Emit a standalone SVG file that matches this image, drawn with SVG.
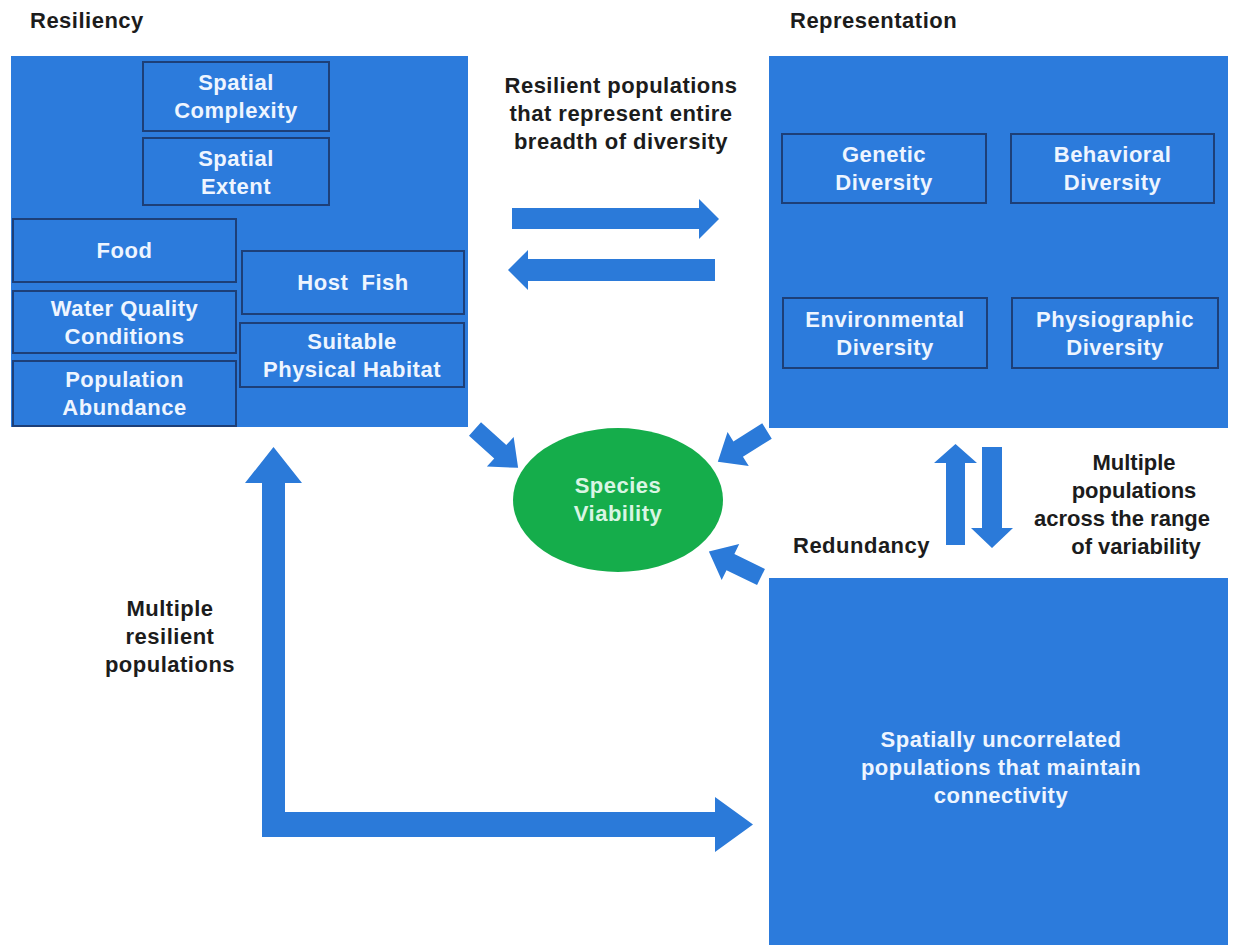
<svg xmlns="http://www.w3.org/2000/svg" width="1239" height="947" viewBox="0 0 1239 947">
<defs>
<style>
.big{fill:#2c7bdc;}
.inner{fill:#2c7bdc;stroke:#1d3f78;stroke-width:2;}
.arrow{fill:#2b7ad9;}
.t{font-family:"Liberation Sans",Arial,sans-serif;font-weight:bold;font-size:22px;letter-spacing:0.5px;text-anchor:middle;}
.n{letter-spacing:0;}
.w{fill:#eef5ff;}
.k{fill:#1c1c1c;}
.g{fill:#d9f5e3;}
</style>
<polygon id="diag" points="0,-9 34,-9 34,-20 58,0 34,20 34,9 0,9"/>
</defs>
<rect width="1239" height="947" fill="#ffffff"/>

<text class="t k" x="30" y="28" style="text-anchor:start">Resiliency</text>
<text class="t k" x="790" y="28" style="text-anchor:start">Representation</text>

<g id="resiliency">
<rect class="big" x="11" y="56" width="457" height="371"/>
<g id="spatial-complexity"><rect class="inner" x="143" y="62" width="186" height="69"/>
<text class="t w" x="236" y="90">Spatial</text><text class="t w" x="236" y="118">Complexity</text></g>
<g id="spatial-extent"><rect class="inner" x="143" y="138" width="186" height="67"/>
<text class="t w" x="236" y="166">Spatial</text><text class="t w" x="236" y="194">Extent</text></g>
<g id="food"><rect class="inner" x="13" y="219" width="223" height="63"/>
<text class="t w" x="124.5" y="258">Food</text></g>
<g id="water-quality"><rect class="inner" x="13" y="291" width="223" height="62"/>
<text class="t w" x="124.5" y="316">Water Quality</text><text class="t w" x="124.5" y="344">Conditions</text></g>
<g id="population-abundance"><rect class="inner" x="13" y="361" width="223" height="65"/>
<text class="t w" x="124.5" y="387">Population</text><text class="t w" x="124.5" y="415">Abundance</text></g>
<g id="host-fish"><rect class="inner" x="242" y="251" width="222" height="63"/>
<text class="t w" x="353" y="290" xml:space="preserve">Host  Fish</text></g>
<g id="physical-habitat"><rect class="inner" x="240" y="323" width="224" height="64"/>
<text class="t w" x="352" y="349">Suitable</text><text class="t w" x="352" y="377">Physical Habitat</text></g>
</g>

<g id="representation">
<rect class="big" x="769" y="56" width="459" height="372"/>
<g id="genetic"><rect class="inner" x="782" y="134" width="204" height="69"/>
<text class="t w" x="884" y="162">Genetic</text><text class="t w" x="884" y="190">Diversity</text></g>
<g id="behavioral"><rect class="inner" x="1011" y="134" width="203" height="69"/>
<text class="t w" x="1112.5" y="162">Behavioral</text><text class="t w" x="1112.5" y="190">Diversity</text></g>
<g id="environmental"><rect class="inner" x="783" y="298" width="204" height="70"/>
<text class="t w" x="885" y="327">Environmental</text><text class="t w" x="885" y="355">Diversity</text></g>
<g id="physiographic"><rect class="inner" x="1012" y="298" width="206" height="70"/>
<text class="t w" x="1115" y="327">Physiographic</text><text class="t w" x="1115" y="355">Diversity</text></g>
</g>

<g id="redundancy-box">
<rect class="big" x="769" y="578" width="459" height="367"/>
<text class="t w" x="1001" y="747">Spatially uncorrelated</text>
<text class="t w" x="1001" y="775">populations that maintain</text>
<text class="t w" x="1001" y="803">connectivity</text>
</g>

<g id="species-viability">
<ellipse cx="618" cy="500" rx="105" ry="72" fill="#15ad4b"/>
<text class="t g" x="618" y="493">Species</text>
<text class="t g" x="618" y="521">Viability</text>
</g>

<g id="labels">
<text class="t k" x="621" y="93">Resilient populations</text>
<text class="t k" x="621" y="121">that represent entire</text>
<text class="t k" x="621" y="149">breadth of diversity</text>
<text class="t k n" x="1134" y="470">Multiple</text>
<text class="t k n" x="1134" y="498">populations</text>
<text class="t k n" x="1122" y="526">across the range</text>
<text class="t k n" x="1136" y="554">of variability</text>
<text class="t k" x="793" y="553" style="text-anchor:start">Redundancy</text>
<text class="t k" x="170" y="616">Multiple</text>
<text class="t k" x="170" y="644">resilient</text>
<text class="t k" x="170" y="672">populations</text>
</g>

<g id="connectors">
<polygon class="arrow" points="512,208 699,208 699,199 719,219 699,239 699,229 512,229"/>
<polygon class="arrow" points="715,259 528,259 528,250 508,270 528,290 528,281 715,281"/>
<use href="#diag" class="arrow" transform="translate(475,429) rotate(42)"/>
<use href="#diag" class="arrow" transform="translate(767,431) rotate(148)"/>
<use href="#diag" class="arrow" transform="translate(761,577) rotate(206)"/>
<polygon class="arrow" points="946,545 946,463 934,463 955.5,444 977,463 965,463 965,545"/>
<polygon class="arrow" points="982,447 1002,447 1002,528 1013,528 992,548 971,528 982,528"/>
<polygon class="arrow" points="262,837 262,483 245,483 273.5,447 302,483 285,483 285,812 715,812 715,797 753,824.5 715,852 715,837"/>
</g>
</svg>
